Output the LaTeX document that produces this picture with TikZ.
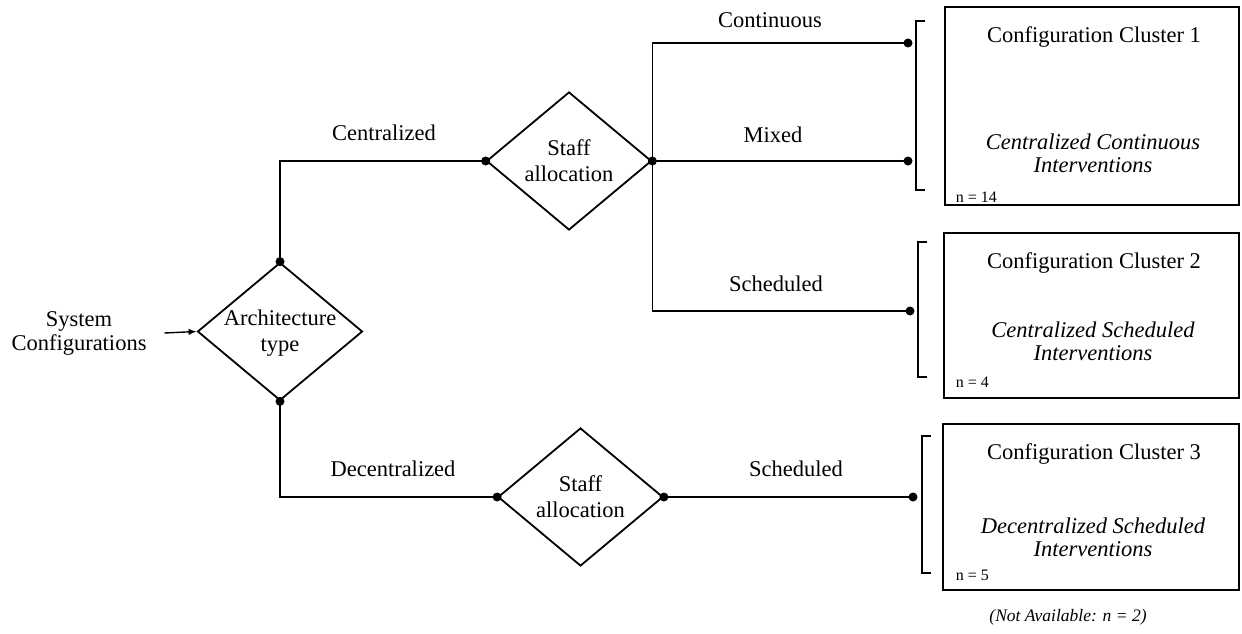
\documentclass[tikz,border=0pt]{standalone}
\usepackage{fontspec}
\setmainfont{Liberation Serif}
\usetikzlibrary{shapes.geometric,arrows.meta}
\begin{document}
\begin{tikzpicture}[x=1pt,y=-1pt,line width=1.8pt,
  dia/.style={draw,diamond,inner sep=0pt,minimum width=165pt,minimum height=138pt},
  txt/.style={font=\fontsize{22.5}{24}\selectfont,align=center,inner sep=0pt},
  dtxt/.style={font=\fontsize{22.5}{26}\selectfont,align=center,inner sep=0pt},
  itxt/.style={font=\fontsize{22.5}{23}\selectfont\itshape,align=center,inner sep=0pt},
  small/.style={font=\fontsize{16}{18}\selectfont,inner sep=0pt,anchor=base west},
  jdot/.style={circle,fill,inner sep=0pt,minimum size=9pt},
  cbox/.style={draw,inner sep=0pt},
  brk/.style={line width=1.8pt}]
\useasboundingbox (0,0) rectangle (1242,634);

% decision diamonds
\node[dia] (arch) at (280,331.5) {};
\node[dtxt] (archt) at (280,333) {Architecture\\type};
\node[dia] (st1) at (569,161) {};
\node[dtxt] (st1t) at (569,161) {Staff\\allocation};
\node[dia] (st2) at (580.5,497) {};
\node[dtxt] (st2t) at (580.5,497) {Staff\\allocation};

% start text
\node[txt] (sc) at (79,333) {System\\Configurations};
\draw[-{Latex[length=8pt,width=6.5pt]},line width=1.4pt] ([xshift=17pt]sc.east) -- (arch.west);

% end points
\node[jdot] (a1) at (arch.north) {};
\node[jdot] (a2) at (arch.south) {};
\node[jdot] (s1w) at (st1.west) {};
\node[jdot] (s1e) at (st1.east) {};
\node[jdot] (s2w) at (st2.west) {};
\node[jdot] (s2e) at (st2.east) {};
\node[jdot] (d1) at (908,43) {};
\node[jdot] (d2) at (908,161) {};
\node[jdot] (d3) at (910,311) {};
\node[jdot] (d4) at (913,497) {};

% connectors
\draw (a1.center) |- (s1w.center);
\draw (a2.center) |- (s2w.center);
\draw (s1e.center) |- (d1.center);
\draw (s1e.center) -- (d2.center);
\draw (s1e.center) |- (d3.center);
\draw (s2e.center) -- (d4.center);

% branch labels
\node[txt] (lc) at (384,133) {Centralized};
\node[txt] (ld) at (393,469) {Decentralized};
\node[txt] (lco) at (770,20) {Continuous};
\node[txt] (lm) at (773,135) {Mixed};
\node[txt] (ls1) at (776,284) {Scheduled};
\node[txt] (ls2) at (796,469) {Scheduled};

% brackets
\draw[brk] (925,21) -- (916,21) -- (916,190) -- (925,190);
\draw[brk] (927,242) -- (918,242) -- (918,377) -- (927,377);
\draw[brk] (931,436) -- (922,436) -- (922,573) -- (931,573);

% cluster boxes
\node[cbox,minimum width=294pt,minimum height=198pt] (c1) at (1092,106) {};
\node[cbox,minimum width=295pt,minimum height=165pt] (c2) at (1091.5,315.5) {};
\node[cbox,minimum width=296pt,minimum height=166pt] (c3) at (1091,507) {};

\node[txt] (c1a) at (1094,37) {Configuration Cluster 1};
\node[itxt] (c1b) at (1093,153) {Centralized Continuous\\Interventions};
\node[small] (c1n) at (955,202) {n = 14};

\node[txt] (c2a) at (1094,263) {Configuration Cluster 2};
\node[itxt] (c2b) at (1093,341) {Centralized Scheduled\\Interventions};
\node[small] (c2n) at (955,387) {n = 4};

\node[txt] (c3a) at (1094,454) {Configuration Cluster 3};
\node[itxt] (c3b) at (1093,537) {Decentralized Scheduled\\Interventions};
\node[small] (c3n) at (955,580) {n = 5};

\node[font=\fontsize{17.5}{19}\selectfont\itshape,inner sep=0pt] (na) at (1068,617) {(Not Available: n = 2)};
\end{tikzpicture}
\end{document}
